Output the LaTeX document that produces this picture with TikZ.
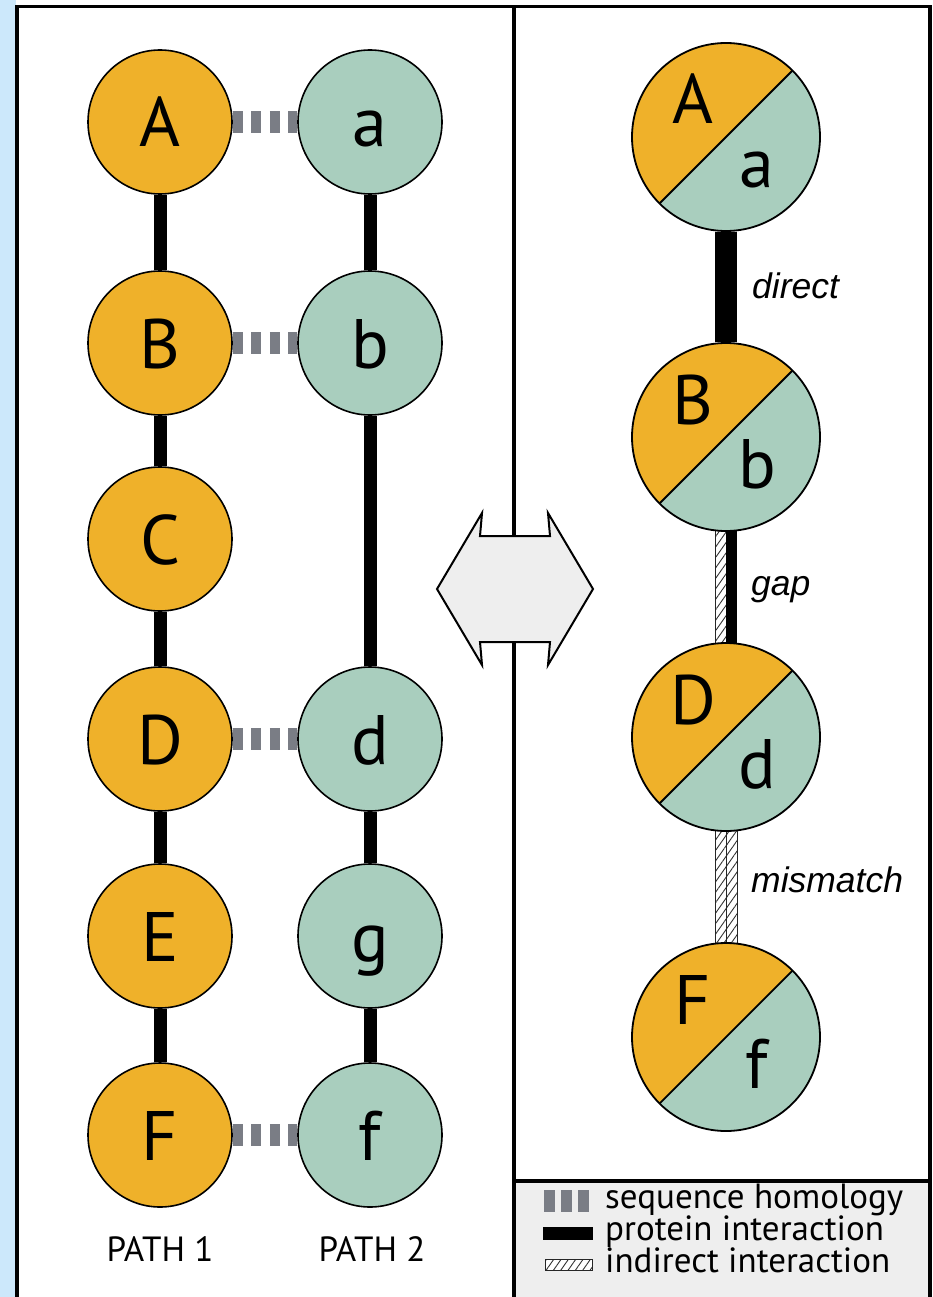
\documentclass[tikz,border=0pt]{standalone}
\usepackage{fontspec}
\setmainfont{PT Sans}
\newfontfamily\notefont{Liberation Sans}
\usetikzlibrary{patterns.meta}

\definecolor{pathA}{HTML}{EFB12A}
\definecolor{pathB}{HTML}{A9CEBE}
\definecolor{sidebar}{HTML}{CCE8FB}
\definecolor{panelgray}{HTML}{EEEEEE}
\definecolor{homolgray}{HTML}{7A7D85}

\pgfdeclarelayer{bg}
\pgfdeclarelayer{links}
\pgfsetlayers{bg,links,main}

\tikzset{
  protein/.style={circle, draw=black, line width=1.6pt, minimum size=144pt,
    inner sep=0pt, text height=50pt, text depth=0pt,
    font=\fontsize{70}{80}\selectfont},
  protA/.style={protein, fill=pathA},
  protB/.style={protein, fill=pathB},
  merged/.style={circle, draw=black, line width=1.8pt, minimum size=188pt,
    inner sep=0pt, fill=pathA,
    path picture={
      \fill[pathB] (path picture bounding box.north east)
        -- (path picture bounding box.south east)
        -- (path picture bounding box.south west) -- cycle;
      \draw[line width=1.8pt] (path picture bounding box.north east)
        -- (path picture bounding box.south west);
    }},
  letter/.style={anchor=base, inner sep=0pt, font=\fontsize{70}{80}\selectfont},
  interact/.style={line width=13pt},
  directlink/.style={line width=22pt},
  homol/.style={draw=homolgray, line width=22pt, dash pattern=on 10pt off 8.5pt},
  hatch/.style={draw=black!85, line width=0.9pt, preaction={fill=white},
    pattern={Lines[angle=55, distance=6pt, line width=0.9pt]},
    pattern color=black!80},
  note/.style={anchor=base west, inner sep=0pt,
    font=\notefont\itshape\fontsize{35.5}{40}\selectfont},
  pathname/.style={anchor=base, inner sep=0pt, font=\fontsize{35}{40}\selectfont},
  legendtext/.style={anchor=base west, inner sep=0pt, text height=24pt,
    text depth=5pt, font=\fontsize{35}{38}\selectfont},
}

\begin{document}
\begin{tikzpicture}[x=1pt, y=-1pt, line join=miter]
\useasboundingbox (0,0) rectangle (932,1297);

% panels and frame
\begin{pgfonlayer}{bg}
  \fill[white] (0,0) rectangle (932,1297);
  \fill[sidebar] (0,0) rectangle (15.5,1297);
  \fill[panelgray] (514,1181) rectangle (930,1310);
  \draw[line width=3.5pt] (17,1310) -- (17,6.7) -- (930,6.7) -- (930,1310);
  \draw[line width=3.5pt] (514,6.7) -- (514,1310);
  \draw[line width=3.5pt] (514,1181) -- (930,1181);
\end{pgfonlayer}

% path 1
\node[protA] (A) at (160,122)  {A};
\node[protA] (B) at (160,343)  {B};
\node[protA] (C) at (160,539)  {C};
\node[protA] (D) at (160,739)  {D};
\node[protA] (E) at (160,936)  {E};
\node[protA] (F) at (160,1135) {F};
% path 2
\node[protB] (a) at (370,122)  {a};
\node[protB] (b) at (370,343)  {b};
\node[protB] (d) at (370,739)  {d};
\node[protB] (g) at (370,936)  {g};
\node[protB] (f) at (370,1135) {f};

\node[pathname] (p1) at (160,1261) {PATH 1};
\node[pathname] (p2) at (372,1261) {PATH 2};

\begin{pgfonlayer}{links}
  \draw[interact] (A) -- (B) (B) -- (C) (C) -- (D) (D) -- (E) (E) -- (F);
  \draw[interact] (a) -- (b) (b) -- (d) (d) -- (g) (g) -- (f);
  \draw[homol] (A.east) -- (a.west);
  \draw[homol] (B.east) -- (b.west);
  \draw[homol] (D.east) -- (d.west);
  \draw[homol] (F.east) -- (f.west);
\end{pgfonlayer}

% equivalence arrow between the panels
\draw[fill=panelgray, line width=2pt]
  (437,589) -- (482,513) -- (480,536) -- (550,536) -- (548,513) -- (593,589)
  -- (548,665) -- (550,642) -- (480,642) -- (482,665) -- cycle;

% merged path
\node[merged] (Aa) at (726,137)  {};
\node[merged] (Bb) at (726,437)  {};
\node[merged] (Dd) at (726,737)  {};
\node[merged] (Ff) at (726,1037) {};
\foreach \n/\u/\l in {Aa/A/a, Bb/B/b, Dd/D/d, Ff/F/f}{
  \node[letter] (\n-u) at ([shift={(-33,-13)}]\n.center) {\u};
  \node[letter] (\n-l) at ([shift={(31,51)}]\n.center) {\l};
}

\begin{pgfonlayer}{links}
  \draw[directlink] (Aa) -- (Bb);
  \path[hatch] ([xshift=-11pt]Bb.center) rectangle (Dd.center);
  \fill (Bb.center) rectangle ([xshift=11pt]Dd.center);
  \path[hatch] ([xshift=-11pt]Dd.center) rectangle (Ff.center);
  \path[hatch] (Dd.center) rectangle ([xshift=11pt]Ff.center);
\end{pgfonlayer}

\node[note] (ldirect) at (752,298) {direct};
\node[note] (lgap) at (751,595) {gap};
\node[note] (lmis) at (751,892) {mismatch};

% legend
\coordinate (h1) at (544,1201);
\coordinate (h2) at (589,1201);
\coordinate (p1s) at (543,1233.5);
\coordinate (p2s) at (593,1233.5);
\draw[homol, dash pattern=on 11pt off 6pt] (h1) -- (h2);
\draw[interact] (p1s) -- (p2s);
\path[hatch] (545,1259) rectangle (592,1270);
\node[legendtext] (t1) at (605,1208) {sequence homology};
\node[legendtext] (t2) at (605,1240) {protein interaction};
\node[legendtext] (t3) at (605,1272) {indirect interaction};
\end{tikzpicture}
\end{document}
